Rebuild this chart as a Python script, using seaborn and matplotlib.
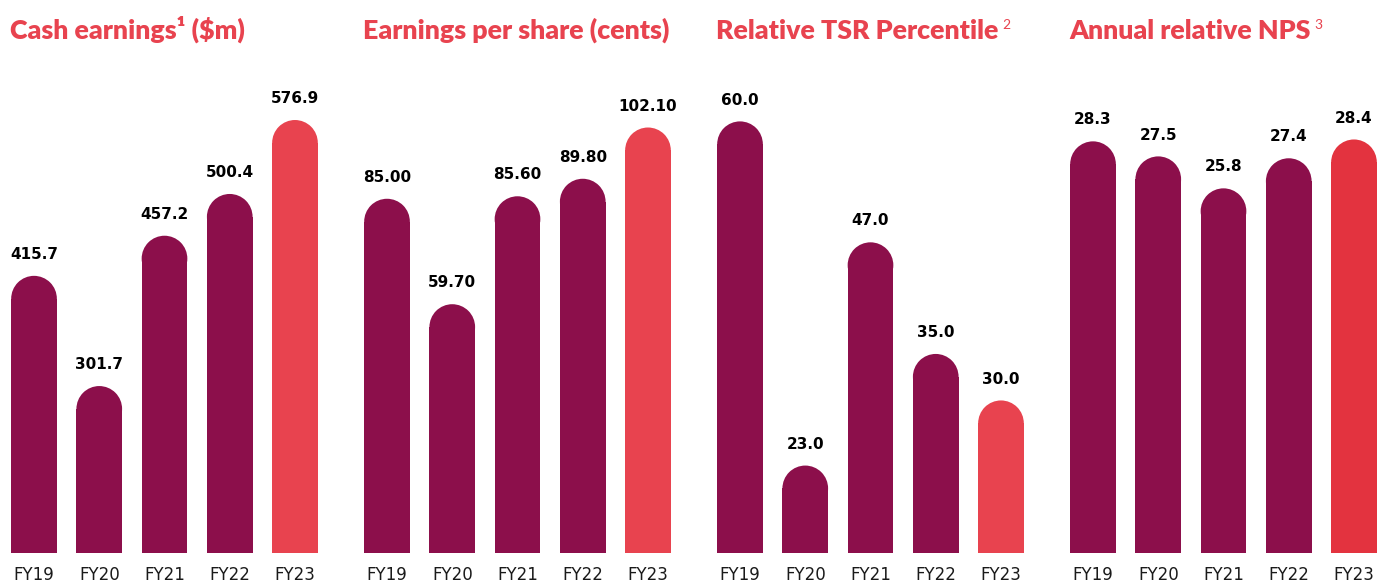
import numpy as np
import pandas as pd
import matplotlib.pyplot as plt
import seaborn as sns
from matplotlib.patches import Ellipse

years = ['FY19', 'FY20', 'FY21', 'FY22', 'FY23']
cash_earnings = [415.7, 301.7, 457.2, 500.4, 576.9]
eps_cents = [85.00, 59.70, 85.60, 89.80, 102.10]
tsr_percentile = [60.0, 23.0, 47.0, 35.0, 30.0]
relative_nps = [28.3, 27.5, 25.8, 27.4, 28.4]

titles = ['Cash earnings\u00b9 ($m)', 'Earnings per share (cents)',
          'Relative TSR Percentile', 'Annual relative NPS']
sups = ['', '', '2', '3']
fmts = ['{:.1f}', '{:.2f}', '{:.1f}', '{:.1f}']

maroon = '#8C0F4B'
red = '#E8434F'
red2 = '#E3333F'
palettes = [[maroon] * 4 + [red], [maroon] * 4 + [red],
            [maroon] * 4 + [red], [maroon] * 4 + [red2]]
# axis ranges (bars are not zero based)
ylims = [(129, 597.6), (0, 108.7), (13.6, 62.3), (6.4, 30.5)]

sns.set_style('white')
plt.rcParams['font.family'] = ['DejaVu Sans']

W, H = 1377, 583
fig = plt.figure(figsize=(W / 100, H / 100), dpi=100)
lefts = [1.4, 354.4, 707.4, 1060.4]
ax_w, ax_b, ax_h = 326.2, 30, 453

data = [cash_earnings, eps_cents, tsr_percentile, relative_nps]
for i, vals in enumerate(data):
    ax = fig.add_axes([lefts[i] / W, ax_b / H, ax_w / W, ax_h / H])
    df = pd.DataFrame({'year': years, 'value': vals})
    sns.barplot(data=df, x='year', y='value', hue='year', palette=palettes[i],
                legend=False, width=0.7, saturation=1, linewidth=0, ax=ax)
    lo, hi = ylims[i]
    ax.set_ylim(lo, hi)
    ppu = ax_h / (hi - lo)
    for p, v in zip(ax.patches, vals):
        x0, w = p.get_x(), p.get_width()
        r_px = w * ax_w / 5 / 2
        r = r_px / ppu
        p.set_height(v - r)
        ax.add_patch(Ellipse((x0 + w / 2, v - r), w, 2 * r,
                             facecolor=p.get_facecolor(), linewidth=0))
        ax.annotate(fmts[i].format(v), (x0 + w / 2, v), xytext=(0, 10),
                    textcoords='offset points', ha='center', va='bottom',
                    fontsize=11, fontweight='bold', color='black')
    ax.set_xlabel('')
    ax.set_ylabel('')
    ax.set_yticks([])
    ax.tick_params(axis='x', length=0, pad=9, labelsize=12, labelcolor='#1a1a1a')
    sns.despine(ax=ax, left=True, bottom=True)

    tx = (lefts[i] + 8.6) / W
    t = fig.text(tx, 1 - 39 / H, titles[i], color=red, fontsize=19.3,
                 fontweight='heavy', family=['Lato', 'DejaVu Sans'],
                 ha='left', va='baseline')
    if sups[i]:
        fig.canvas.draw()
        bb = t.get_window_extent()
        fig.text((bb.x1 + 4) / W, 1 - 29 / H, sups[i], color=red,
                 fontsize=10, family=['Lato', 'DejaVu Sans'],
                 ha='left', va='baseline')

fig.savefig('out.png', dpi=100)
